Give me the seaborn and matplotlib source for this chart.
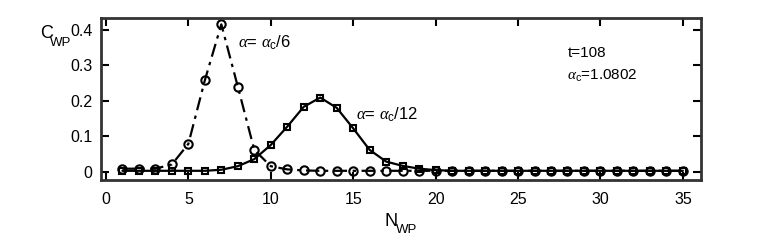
import numpy as np
import pandas as pd
import matplotlib
matplotlib.use("Agg")
import matplotlib.pyplot as plt
import seaborn as sns

# ---------------------------------------
# Data
# ---------------------------------------
n_wp = list(range(1, 36))

c_wp_6 = [0.008, 0.008, 0.008, 0.020, 0.078, 0.258, 0.416, 0.240, 0.061, 0.015,
          0.006, 0.003] + [0.002] * 23

c_wp_12 = [0.002, 0.002, 0.002, 0.002, 0.002, 0.002, 0.005, 0.015, 0.035, 0.075,
           0.127, 0.183, 0.209, 0.180, 0.122, 0.061, 0.028, 0.016, 0.008, 0.004] + [0.002] * 15

x_ticks = [0, 5, 10, 15, 20, 25, 30, 35]
y_ticks = [0, 0.1, 0.2, 0.3, 0.4]
y_tick_labels = ["0", "0.1", "0.2", "0.3", "0.4"]

df = pd.DataFrame({
    "N": n_wp * 2,
    "C": c_wp_6 + c_wp_12,
    "series": ["a6"] * len(n_wp) + ["a12"] * len(n_wp),
})

# ---------------------------------------
# Style
# ---------------------------------------
sns.set_style("ticks")
plt.rcParams["font.family"] = ["Liberation Sans", "DejaVu Sans"]
plt.rcParams["text.color"] = "black"
plt.rcParams["xtick.color"] = "black"
plt.rcParams["ytick.color"] = "black"
plt.rcParams["mathtext.fontset"] = "custom"
plt.rcParams["mathtext.rm"] = "Liberation Sans"
plt.rcParams["mathtext.it"] = "Liberation Serif:italic"

fig = plt.figure(figsize=(7.75, 2.42), dpi=100)
ax = fig.add_axes([101 / 775, 1 - 180 / 242, 600 / 775, 162 / 242])

# ---------------------------------------
# Lines
# ---------------------------------------
sns.lineplot(data=df[df.series == "a6"], x="N", y="C", ax=ax, color="black",
             marker="o", markersize=6, markerfacecolor="none", markeredgecolor="black",
             markeredgewidth=1.5, linewidth=1.6, legend=False)
ax.lines[-1].set_dashes((6, 2.5, 1.5, 2.5))

sns.lineplot(data=df[df.series == "a12"], x="N", y="C", ax=ax, color="black",
             marker="s", markersize=5, markerfacecolor="none", markeredgecolor="black",
             markeredgewidth=1.5, linewidth=1.6, legend=False)

# ---------------------------------------
# Axes
# ---------------------------------------
ax.set_xlim(-0.3, 36.1)
ax.set_ylim(-0.024, 0.434)
ax.set_xticks(x_ticks)
ax.set_yticks(y_ticks)
ax.set_yticklabels(y_tick_labels)
ax.tick_params(direction="in", length=6, width=1.5, top=True, right=True,
               labelsize=11.5, pad=6, colors="black")
ax.tick_params(axis="x", pad=9)
for s in ax.spines.values():
    s.set_linewidth(2)
    s.set_color("#333333")
ax.set_xlabel("")
ax.set_ylabel("")

# axis titles with a low subscript, as in the reference
fig.text(40 / 775, 1 - 38 / 242, "C", fontsize=13, va="baseline")
fig.text(50 / 775, 1 - 46 / 242, "WP", fontsize=9.5, va="baseline")
fig.text(385 / 775, 1 - 226 / 242, "N", fontsize=13, va="baseline")
fig.text(396 / 775, 1 - 233 / 242, "WP", fontsize=9.5, va="baseline")

ax.text(8.0, 0.365, r"$\alpha$= $\alpha_{\mathrm{c}}$/6", fontsize=12, va="center")
ax.text(15.2, 0.16, r"$\alpha$= $\alpha_{\mathrm{c}}$/12", fontsize=12, va="center")
ax.text(28.0, 0.335, "t=108", fontsize=11, va="center")
ax.text(28.0, 0.27, r"$\alpha_{\mathrm{c}}$=1.0802", fontsize=11, va="center")

fig.savefig("out.png", dpi=100)
